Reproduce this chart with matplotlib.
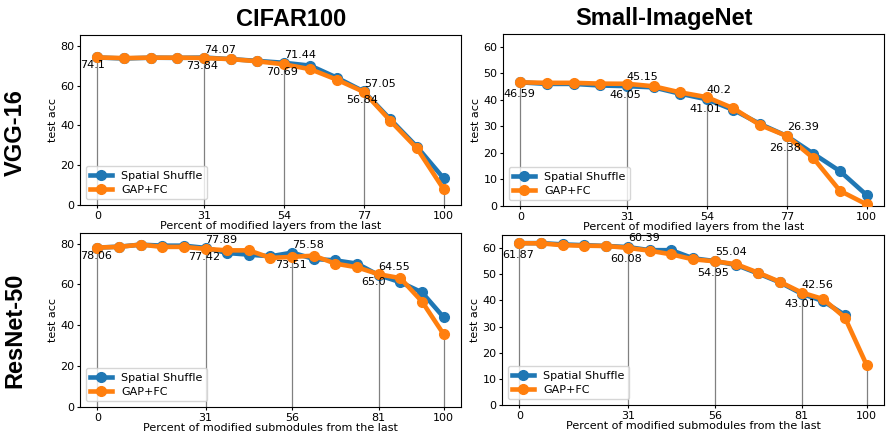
import numpy as np
import matplotlib
matplotlib.use("Agg")
import matplotlib.pyplot as plt

# ---------------- data ----------------
vgg_x = [i / 13 * 100 for i in range(14)]
res_x = [i / 16 * 100 for i in range(17)]

vgg_ticks = [0, 4, 7, 10, 13]          # indices of labelled points
vgg_tick_labels = ["0", "31", "54", "77", "100"]
res_ticks = [0, 5, 9, 13, 16]
res_tick_labels = ["0", "31", "56", "81", "100"]

vgg_cifar_shuffle = [74.1, 73.6, 74.0, 73.9, 74.07, 73.3, 72.4, 71.44, 70.0, 63.9, 57.05, 43.0, 29.2, 13.4]
vgg_cifar_gap = [74.1, 73.8, 74.0, 74.0, 73.84, 73.3, 72.2, 70.69, 68.2, 62.9, 56.84, 42.3, 28.4, 7.9]

vgg_sin_shuffle = [46.59, 46.0, 46.0, 45.4, 45.15, 44.7, 42.3, 40.2, 36.2, 30.9, 26.39, 19.7, 13.1, 4.1]
vgg_sin_gap = [46.59, 46.4, 46.4, 46.1, 46.05, 45.1, 42.8, 41.01, 36.8, 30.5, 26.38, 18.0, 5.7, 0.6]

res_cifar_shuffle = [78.06, 78.5, 79.5, 79.0, 79.0, 77.89, 75.4, 74.6, 73.8, 75.58, 72.5, 71.8, 70.2, 64.55, 61.1, 56.1, 43.9]
res_cifar_gap = [78.06, 78.4, 79.5, 78.4, 78.4, 77.42, 76.7, 76.7, 73.0, 73.51, 74.1, 70.2, 68.4, 65.0, 63.1, 51.6, 35.6]

res_sin_shuffle = [61.87, 61.9, 61.4, 61.1, 60.8, 60.39, 59.2, 59.2, 56.1, 55.04, 53.5, 50.3, 46.9, 42.56, 39.7, 34.4]
res_sin_gap = [61.87, 61.8, 61.1, 60.9, 60.8, 60.08, 59.0, 57.6, 55.7, 54.95, 53.8, 50.6, 47.1, 43.01, 40.5, 33.4, 15.3]

col_titles = ["CIFAR100", "Small-ImageNet"]
row_titles = ["VGG-16", "ResNet-50"]
series_names = ["Spatial Shuffle", "GAP+FC"]

# ---------------- figure ----------------
W, H = 887, 433
fig = plt.figure(figsize=(W / 100, H / 100), dpi=100)

def box(l, r, t, b):
    return [l / W, 1 - b / H, (r - l) / W, (b - t) / H]

FS = 8
BLUE = "#1f77b4"
ORANGE = "#ff7f0e"

panels = [
    (box(80, 461, 35, 205), vgg_x, vgg_cifar_shuffle, vgg_cifar_gap, vgg_ticks, vgg_tick_labels,
     "Percent of modified layers from the last", 85.4),
    (box(503, 884, 34, 206), vgg_x, vgg_sin_shuffle, vgg_sin_gap, vgg_ticks, vgg_tick_labels,
     "Percent of modified layers from the last", 64.8),
    (box(80, 461, 233, 407), res_x, res_cifar_shuffle, res_cifar_gap, res_ticks, res_tick_labels,
     "Percent of modified submodules from the last", 85.2),
    (box(502, 884, 235, 405), res_x, res_sin_shuffle, res_sin_gap, res_ticks, res_tick_labels,
     "Percent of modified submodules from the last", 65.0),
]

for pos, xs, s1, s2, tick_idx, tick_lab, xlabel, ytop in panels:
    ax = fig.add_axes(pos)
    x1 = xs[:len(s1)]
    ax.plot(x1, s1, "-o", color=BLUE, lw=3.3, ms=7, label=series_names[0], zorder=3)
    ax.plot(xs, s2, "-o", color=ORANGE, lw=3.3, ms=7, label=series_names[1], zorder=4)
    for k, i in enumerate(tick_idx):
        ax.vlines(xs[i], 0, s2[i], color="gray", lw=0.9, zorder=2)
        if k == len(tick_idx) - 1:
            continue
        ax.text(xs[i] - 5, s2[i] - 5.5, f"{s2[i]}", fontsize=FS, ha="left", va="baseline", zorder=5)
        if k > 0:
            ax.text(xs[i], s1[i] + 2.3, f"{s1[i]}", fontsize=FS, ha="left", va="baseline", zorder=5)
    ax.set_xticks([xs[i] for i in tick_idx])
    ax.set_xticklabels(tick_lab)
    ax.set_xlim(-5, 105)
    ax.set_ylim(0, ytop)
    ax.tick_params(labelsize=FS, length=2.5, pad=1.5)
    ax.set_ylabel("test acc", fontsize=FS, labelpad=2)
    ax.set_xlabel(xlabel, fontsize=FS, labelpad=0.5)
    ax.legend(loc="lower left", fontsize=FS, handlelength=2.0, borderpad=0.4,
              labelspacing=0.4, framealpha=0.8)

fig.text(291 / W, 1 - 19 / H, col_titles[0], fontsize=17, fontweight="bold",
         family="Liberation Sans", ha="center", va="center")
fig.text(664 / W, 1 - 19 / H, col_titles[1], fontsize=17, fontweight="bold",
         family="Liberation Sans", ha="center", va="center")
fig.text(15 / W, 1 - 133 / H, row_titles[0], fontsize=17, fontweight="bold",
         family="Liberation Sans", ha="center", va="center", rotation=90)
fig.text(15 / W, 1 - 330 / H, row_titles[1], fontsize=17, fontweight="bold",
         family="Liberation Sans", ha="center", va="center", rotation=90)

fig.savefig("out.png", dpi=100)
